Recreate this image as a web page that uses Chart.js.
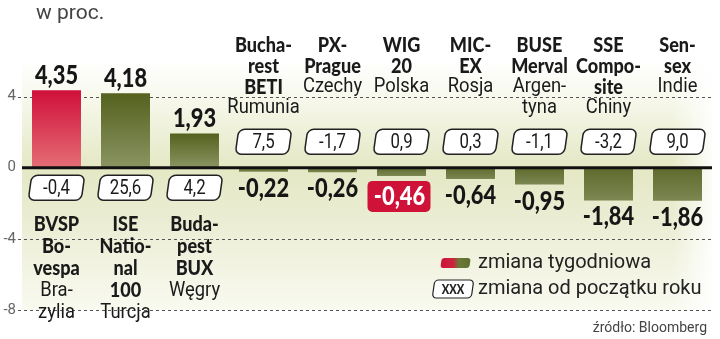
<!DOCTYPE html>
<html>
<head>
<meta charset="utf-8">
<script src="https://cdn.jsdelivr.net/npm/chart.js@4"></script>
<style>
  html, body { margin: 0; padding: 0; background: #fff; }
  #wrap { width: 720px; height: 339px; position: relative; }
</style>
</head>
<body>
<div id="wrap"><canvas id="chart" width="720" height="339"></canvas></div>
<script>
// Data
const categories = ['BVSP Bovespa', 'ISE National 100', 'Budapest BUX', 'Bucharest BETI', 'PX-Prague',
  'WIG 20', 'MICEX', 'BUSE Merval', 'SSE Composite', 'Sensex'];
const weeklyChange = [4.35, 4.18, 1.93, -0.22, -0.26, -0.46, -0.64, -0.95, -1.84, -1.86];
const ytdChange = [-0.4, 25.6, 4.2, 7.5, -1.7, 0.9, 0.3, -1.1, -3.2, 9.0];
const nameBold = [
  ['BVSP', 'Bo-', 'vespa'], ['ISE', 'Natio-', 'nal', '100'], ['Buda-', 'pest', 'BUX'],
  ['Bucha-', 'rest', 'BETI'], ['PX-', 'Prague'], ['WIG', '20'], ['MIC-', 'EX'],
  ['BUSE', 'Merval'], ['SSE', 'Compo-', 'site'], ['Sen-', 'sex']
];
const nameRegular = [
  ['Bra-', 'zylia'], ['Turcja'], ['Węgry'], ['Rumunia'], ['Czechy'], ['Polska'], ['Rosja'],
  ['Argen-', 'tyna'], ['Chiny'], ['Indie']
];
const yTicks = [4, 0, -4, -8];
const redBar = 0;      // Brazil bar drawn in red
const redLabel = 5;    // Poland label highlighted

const FONT = 'Roboto, "Liberation Sans", sans-serif';
const HEAVY = 'Lato, "Liberation Sans", sans-serif';

const fmt = (v, d) => v.toFixed(d).replace('.', ',');

// text squeezed horizontally, the original uses a condensed face
function cText(ctx, t, x, y, sx) {
  ctx.save();
  ctx.translate(x, y);
  ctx.scale(sx, 1);
  ctx.fillText(t, 0, 0);
  ctx.restore();
}

function barColor(c) {
  const chart = c.chart;
  const area = chart.chartArea;
  const v = c.raw;
  if (!area || typeof v !== 'number') return c.dataIndex === redBar ? '#d61840' : '#66722f';
  const y = chart.scales.y;
  const y0 = y.getPixelForValue(0);
  const y1 = y.getPixelForValue(v);
  const g = chart.ctx.createLinearGradient(0, y1, 0, y0);
  if (c.dataIndex === redBar) {
    g.addColorStop(0, '#d0103a');
    g.addColorStop(1, '#e56e76');
  } else if (v >= 0) {
    g.addColorStop(0, '#55611e');
    g.addColorStop(1, '#8a9562');
  } else {
    g.addColorStop(0, '#7c8752');
    g.addColorStop(1, '#5e6a2c');
  }
  return g;
}

function slantBox(ctx, cx, cy, w, h, r) {
  ctx.save();
  ctx.translate(cx, cy);
  ctx.transform(1, 0, -0.14, 1, 0, 0);
  ctx.beginPath();
  ctx.roundRect(-w / 2, -h / 2, w, h, r);
  ctx.restore();
}

const decor = {
  id: 'decor',
  beforeDatasetsDraw(chart) {
    const { ctx, chartArea: a, scales: { y } } = chart;
    ctx.save();
    // soft background behind the plot
    const bg = ctx.createLinearGradient(0, a.top, 0, a.bottom);
    const z = (y.getPixelForValue(0) - a.top) / (a.bottom - a.top);
    bg.addColorStop(0, '#ffffff');
    bg.addColorStop(z * 0.35, '#f7f8ec');
    bg.addColorStop(z, '#e4e8c4');
    bg.addColorStop(Math.min(1, z + 0.25), '#eceed6');
    bg.addColorStop(1, '#f9faf0');
    ctx.fillStyle = bg;
    ctx.fillRect(a.left, a.top, a.right - a.left, a.bottom - a.top);
    const fade = ctx.createLinearGradient(a.right - 40, 0, a.right, 0);
    fade.addColorStop(0, 'rgba(255,255,255,0)');
    fade.addColorStop(1, 'rgba(255,255,255,0.9)');
    ctx.fillStyle = fade;
    ctx.fillRect(a.right - 40, a.top, 40, a.bottom - a.top);

    // dashed grid lines
    ctx.strokeStyle = '#555';
    ctx.lineWidth = 1;
    ctx.setLineDash([3, 3]);
    yTicks.filter(t => t !== 0).forEach(t => {
      const py = Math.round(y.getPixelForValue(t)) + 0.5;
      ctx.beginPath();
      ctx.moveTo(a.left - 4, py);
      ctx.lineTo(a.right, py);
      ctx.stroke();
    });
    ctx.restore();
  },
  afterDatasetsDraw(chart) {
    const { ctx, chartArea: a, scales: { x, y } } = chart;
    const y0 = y.getPixelForValue(0);
    ctx.save();
    // zero line
    ctx.strokeStyle = '#111';
    ctx.lineWidth = 3;
    ctx.beginPath();
    ctx.moveTo(a.left, y0);
    ctx.lineTo(a.right, y0);
    ctx.stroke();

    ctx.textAlign = 'center';
    weeklyChange.forEach((v, i) => {
      const cx = x.getPixelForValue(i);
      const py = y.getPixelForValue(v);
      // weekly value
      ctx.font = '900 26px ' + HEAVY;
      ctx.textBaseline = 'alphabetic';
      if (v >= 0) {
        ctx.fillStyle = '#161616';
        cText(ctx, fmt(v, 2), cx, py - 6, 0.84);
      } else if (i === redLabel) {
        ctx.fillStyle = '#cf1238';
        ctx.beginPath();
        ctx.roundRect(cx - 34, py + 5, 63, 31, 5);
        ctx.fill();
        ctx.fillStyle = '#fff';
        cText(ctx, fmt(v, 2), cx - 2, py + 29, 0.84);
      } else {
        ctx.fillStyle = '#161616';
        cText(ctx, fmt(v, 2), cx, py + 25, 0.84);
      }

      // year-to-date box
      const by = v >= 0 ? y0 + 20 : y0 - 26;
      slantBox(ctx, cx, by, 53, 25, 6);
      ctx.fillStyle = '#fff';
      ctx.fill();
      ctx.lineWidth = 1.5;
      ctx.strokeStyle = '#222';
      ctx.stroke();
      ctx.fillStyle = '#1a1a1a';
      ctx.font = '21px ' + FONT;
      ctx.textBaseline = 'middle';
      cText(ctx, fmt(ytdChange[i], 1), cx, by + 1, 0.8);

      // index names
      let ly = v >= 0 ? y0 + 57 : 45;
      const lh = v >= 0 ? 22 : 21;
      nameBold[i].forEach(t => {
        ctx.font = '900 21px ' + HEAVY;
        cText(ctx, t, cx, ly, 0.86);
        ly += lh;
      });
      nameRegular[i].forEach(t => {
        ctx.font = '20px ' + FONT;
        cText(ctx, t, cx, ly, 0.92);
        ly += lh;
      });
    });

    // title
    ctx.textAlign = 'left';
    ctx.fillStyle = '#444';
    ctx.font = '21px ' + FONT;
    ctx.fillText('w proc.', 36, 14);

    // legend
    const sw = ctx.createLinearGradient(440, 0, 471, 0);
    sw.addColorStop(0, '#d0103a');
    sw.addColorStop(0.45, '#c8283c');
    sw.addColorStop(0.6, '#6a7a38');
    sw.addColorStop(1, '#5f6e2e');
    ctx.fillStyle = sw;
    slantBox(ctx, 455.5, 263, 29, 10, 3);
    ctx.fill();
    ctx.fillStyle = '#222';
    ctx.font = '20px ' + FONT;
    ctx.fillText('zmiana tygodniowa', 478, 263);

    slantBox(ctx, 453, 289, 39, 18, 4);
    ctx.fillStyle = '#fff';
    ctx.fill();
    ctx.lineWidth = 1.2;
    ctx.strokeStyle = '#222';
    ctx.stroke();
    ctx.fillStyle = '#222';
    ctx.textAlign = 'center';
    ctx.font = '900 13px ' + HEAVY;
    cText(ctx, 'XXX', 453, 290, 0.85);
    ctx.textAlign = 'left';
    ctx.font = '20px ' + FONT;
    ctx.fillText('zmiana od początku roku', 478, 289);

    ctx.textAlign = 'right';
    ctx.fillStyle = '#444';
    ctx.font = '14px ' + FONT;
    ctx.fillText('źródło: Bloomberg', 707, 328);
    ctx.restore();
  }
};

new Chart(document.getElementById('chart'), {
  type: 'bar',
  data: {
    labels: categories,
    datasets: [{
      label: 'zmiana tygodniowa',
      data: weeklyChange,
      backgroundColor: barColor,
      borderWidth: 0,
      barPercentage: 0.71,
      categoryPercentage: 1.0
    }]
  },
  options: {
    responsive: false,
    animation: false,
    layout: { padding: { top: 61, bottom: 29, right: 8, left: 0 } },
    plugins: { legend: { display: false }, tooltip: { enabled: false } },
    scales: {
      x: { display: false },
      y: {
        min: -8,
        max: 6,
        afterBuildTicks: s => { s.ticks = yTicks.map(v => ({ value: v })); },
        afterFit: s => { s.width = 22; },
        grid: { display: false, drawTicks: false },
        border: { display: false },
        ticks: { padding: 6, color: '#666', font: { family: FONT, size: 15 } }
      }
    }
  },
  plugins: [decor]
});
</script>
</body>
</html>
